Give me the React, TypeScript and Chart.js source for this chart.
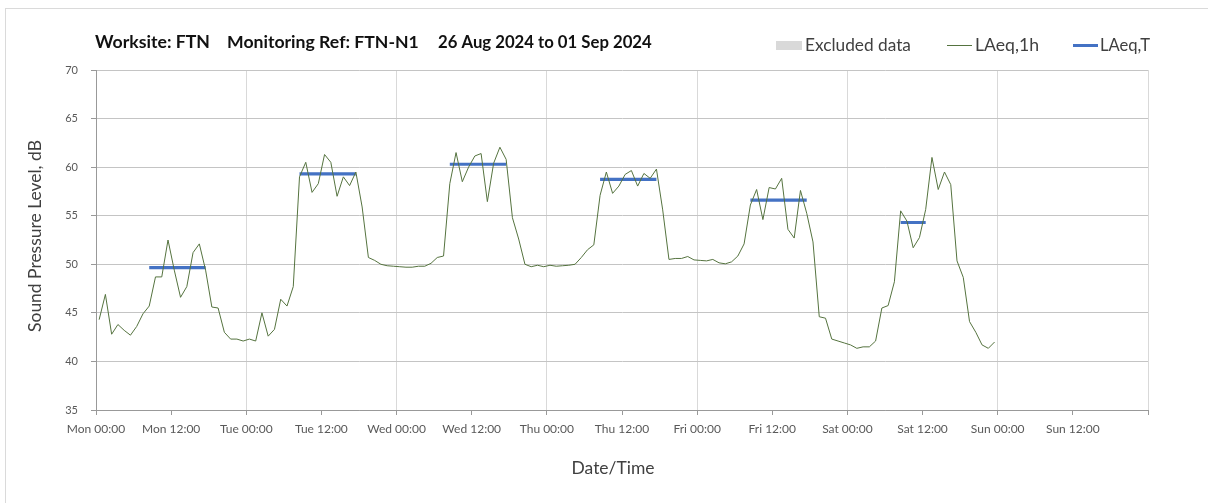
import React, { useEffect, useRef } from "react";
import { Chart, registerables } from "chart.js";

Chart.register(...registerables);

const dayNames = ["Mon", "Tue", "Wed", "Thu", "Fri", "Sat", "Sun", "Mon"];

// hourly LAeq,1h values, Mon 00:00 -> Sun 00:00 (one per hour)
const laeq1h = [
  // Mon
  44.3, 46.9, 42.8, 43.8, 43.2, 42.7, 43.6, 44.9, 45.7, 48.7, 48.7, 52.5,
  49.4, 46.6, 47.7, 51.2, 52.1, 49.4, 45.6, 45.5, 43.0, 42.3, 42.3, 42.1,
  // Tue
  42.3, 42.1, 45.0, 42.6, 43.3, 46.4, 45.7, 47.7, 59.0, 60.5, 57.4, 58.3,
  61.3, 60.5, 57.0, 59.0, 58.1, 59.5, 55.9, 50.7, 50.4, 50.0, 49.85, 49.8,
  // Wed
  49.75, 49.7, 49.7, 49.8, 49.8, 50.1, 50.7, 50.85, 58.3, 61.5, 58.5, 60.0,
  61.15, 61.4, 56.45, 60.4, 62.05, 60.8, 54.8, 52.6, 50.0, 49.75, 49.9, 49.75,
  // Thu
  49.9, 49.8, 49.85, 49.9, 50.0, 50.7, 51.5, 52.0, 57.1, 59.5, 57.3, 58.05,
  59.25, 59.65, 58.05, 59.35, 58.85, 59.8, 55.6, 50.5, 50.6, 50.6, 50.8, 50.45,
  // Fri
  50.4, 50.35, 50.5, 50.15, 50.05, 50.25, 50.85, 52.1, 56.1, 57.7, 54.6, 57.9,
  57.75, 58.85, 53.6, 52.7, 57.6, 55.25, 52.3, 44.6, 44.45, 42.3, 42.1, 41.9,
  // Sat
  41.7, 41.35, 41.5, 41.5, 42.1, 45.5, 45.75, 48.2, 55.5, 54.45, 51.7, 52.75,
  55.65, 61.0, 57.7, 59.5, 58.2, 50.35, 48.65, 44.1, 43.0, 41.7, 41.35, 42.0,
];

// LAeq,T daytime averages per day
const laeqTLevels = [49.65, 59.3, 60.3, 58.75, 56.6, 54.3];
const laeqTStartHour = [8, 8, 8, 8, 8, 8];
const laeqTEndHour = [18, 18, 18, 18, 18, 13];

const yMin = 35;
const yMax = 70;
const yStep = 5;
const xMaxHours = 168;
const xStepHours = 12;

const FONT = "Lato, 'Open Sans', sans-serif";

function fitText(
  ctx: CanvasRenderingContext2D,
  text: string,
  x: number,
  y: number,
  width: number,
  weight: string,
  color: string,
  align: CanvasTextAlign = "left"
) {
  ctx.font = `${weight} 20px ${FONT}`;
  const w = ctx.measureText(text).width;
  const size = (20 * width) / w;
  ctx.font = `${weight} ${size}px ${FONT}`;
  ctx.fillStyle = color;
  ctx.textAlign = align;
  ctx.textBaseline = "middle";
  ctx.fillText(text, x, y);
}

const decorPlugin = {
  id: "decor",
  afterDraw(chart: any) {
    const ctx: CanvasRenderingContext2D = chart.ctx;
    ctx.save();
    // title
    fitText(ctx, "Worksite: FTN", 95, 42.5, 115, "bold", "#111");
    fitText(ctx, "Monitoring Ref: FTN-N1", 227, 42.5, 192, "bold", "#111");
    fitText(ctx, "26 Aug 2024 to 01 Sep 2024", 438, 42.5, 214, "bold", "#111");

    // legend
    ctx.fillStyle = "#d9d9d9";
    ctx.fillRect(776, 41, 26, 9);
    fitText(ctx, "Excluded data", 805, 45.5, 106, "normal", "#404040");
    ctx.strokeStyle = "#55733f";
    ctx.lineWidth = 1;
    ctx.beginPath();
    ctx.moveTo(947, 45.5);
    ctx.lineTo(972, 45.5);
    ctx.stroke();
    fitText(ctx, "LAeq,1h", 975, 45.5, 64, "normal", "#404040");
    ctx.strokeStyle = "#4472c4";
    ctx.lineWidth = 3;
    ctx.beginPath();
    ctx.moveTo(1073, 45.5);
    ctx.lineTo(1098, 45.5);
    ctx.stroke();
    fitText(ctx, "LAeq,T", 1100, 45.5, 50, "normal", "#404040");

    // axis titles
    fitText(ctx, "Date/Time", 613, 468, 83, "normal", "#404040", "center");
    ctx.translate(35, 236);
    ctx.rotate(-Math.PI / 2);
    fitText(ctx, "Sound Pressure Level, dB", 0, 0, 192, "normal", "#404040", "center");
    ctx.restore();
  },
};

export default function App() {
  const canvasRef = useRef<HTMLCanvasElement | null>(null);

  useEffect(() => {
    if (!canvasRef.current) return;
    const lineData = laeq1h.map((v, i) => ({ x: i + 0.5, y: v }));
    const tData: { x: number; y: number | null }[] = [];
    laeqTLevels.forEach((lvl, d) => {
      const base = d * 24;
      tData.push({ x: base + laeqTStartHour[d] + 0.5, y: lvl });
      tData.push({ x: base + laeqTEndHour[d] - 0.5, y: lvl });
      tData.push({ x: base + laeqTEndHour[d], y: null });
    });

    const chart = new Chart(canvasRef.current, {
      type: "line",
      data: {
        datasets: [
          {
            label: "LAeq,1h",
            data: lineData,
            borderColor: "#55733f",
            borderWidth: 1,
            pointRadius: 0,
            tension: 0,
          },
          {
            label: "LAeq,T",
            data: tData as any,
            borderColor: "#4472c4",
            borderWidth: 3.2,
            pointRadius: 0,
            spanGaps: false,
            borderCapStyle: "butt",
          },
        ],
      },
      options: {
        animation: false,
        responsive: false,
        maintainAspectRatio: false,
        layout: { padding: { top: 70, right: 60, bottom: 0, left: 0 } },
        plugins: {
          legend: { display: false },
          title: { display: false },
          tooltip: { enabled: false },
        },
        scales: {
          x: {
            type: "linear",
            min: 0,
            max: xMaxHours,
            afterFit: (s: any) => {
              s.height = 93;
            },
            ticks: {
              stepSize: xStepHours,
              autoSkip: false,
              maxRotation: 0,
              padding: 7,
              color: "#595959",
              font: { family: FONT, size: 12 },
              callback: (v: any) => {
                const n = Number(v);
                if (n >= xMaxHours) return "";
                const day = dayNames[Math.floor(n / 24)];
                return `${day} ${n % 24 === 0 ? "00" : "12"}:00`;
              },
            },
            grid: {
              color: (c: any) =>
                c.tick && c.tick.value % 24 === 0 ? "#d9d9d9" : "rgba(0,0,0,0)",
              lineWidth: 1,
              tickLength: 5,
              tickColor: "#999999",
            },
            border: { color: "#999999", width: 1 },
          },
          y: {
            min: yMin,
            max: yMax,
            afterFit: (s: any) => {
              s.width = 96;
            },
            ticks: {
              stepSize: yStep,
              padding: 13,
              color: "#595959",
              font: { family: FONT, size: 11 },
            },
            grid: {
              color: "#c4c4c4",
              lineWidth: 1,
              tickLength: 5,
              tickColor: "#999999",
            },
            border: { color: "#999999", width: 1 },
          },
        },
      },
      plugins: [decorPlugin],
    });
    return () => chart.destroy();
  }, []);

  return (
    <div
      style={{
        position: "fixed",
        left: 0,
        top: 0,
        width: 1208,
        height: 503,
        background: "#fff",
        overflow: "hidden",
      }}
    >
      <div
        style={{
          position: "absolute",
          left: 5,
          top: 8,
          width: 1210,
          height: 500,
          borderTop: "1px solid #dadada",
          borderLeft: "1px solid #dadada",
        }}
      />
      <canvas
        ref={canvasRef}
        width={1208}
        height={503}
        style={{ position: "absolute", left: 0, top: 0, width: 1208, height: 503 }}
      />
    </div>
  );
}
